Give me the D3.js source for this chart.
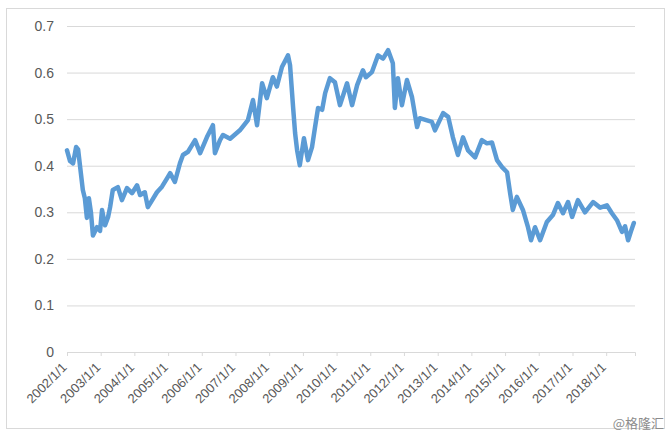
<!DOCTYPE html>
<html>
<head>
<meta charset="utf-8">
<script src="https://cdn.jsdelivr.net/npm/d3@7"></script>
<style>
	body { margin: 0; background: #fff; }
	svg { display: block; }
</style>
</head>
<body>
<div id="chart"></div>
<script>
const years = [
	2002.00, 2002.09, 2002.18, 2002.27, 2002.33, 2002.39, 2002.47, 2002.53, 2002.59, 2002.65,
	2002.71, 2002.77, 2002.89, 2002.98, 2003.04, 2003.13, 2003.22, 2003.28, 2003.36, 2003.51,
	2003.63, 2003.78, 2003.93, 2004.08, 2004.17, 2004.31, 2004.40, 2004.52, 2004.67, 2004.82,
	2004.97, 2005.06, 2005.20, 2005.35, 2005.44, 2005.59, 2005.80, 2005.95, 2006.15, 2006.33,
	2006.39, 2006.54, 2006.63, 2006.84, 2007.13, 2007.37, 2007.52, 2007.64, 2007.79, 2007.93,
	2008.11, 2008.23, 2008.38, 2008.56, 2008.62, 2008.71, 2008.77, 2008.83, 2008.91, 2009.03,
	2009.15, 2009.27, 2009.36, 2009.45, 2009.57, 2009.66, 2009.80, 2009.95, 2010.10, 2010.31,
	2010.46, 2010.61, 2010.78, 2010.87, 2011.05, 2011.23, 2011.38, 2011.53, 2011.67, 2011.73,
	2011.82, 2011.94, 2012.09, 2012.24, 2012.39, 2012.47, 2012.83, 2012.92, 2013.16, 2013.31,
	2013.45, 2013.60, 2013.75, 2013.90, 2014.11, 2014.31, 2014.46, 2014.61, 2014.76, 2014.91,
	2015.06, 2015.15, 2015.23, 2015.35, 2015.53, 2015.68, 2015.77, 2015.89, 2016.04, 2016.24,
	2016.42, 2016.57, 2016.72, 2016.87, 2016.99, 2017.16, 2017.37, 2017.61, 2017.82, 2018.02,
	2018.17, 2018.32, 2018.47, 2018.56, 2018.65, 2018.74, 2018.82
];
const values = [
	0.433, 0.410, 0.405, 0.440, 0.435, 0.397, 0.348, 0.330, 0.288, 0.330,
	0.300, 0.250, 0.268, 0.260, 0.305, 0.272, 0.290, 0.311, 0.348, 0.354,
	0.326, 0.352, 0.341, 0.358, 0.337, 0.343, 0.311, 0.325, 0.343, 0.355,
	0.373, 0.384, 0.365, 0.405, 0.423, 0.430, 0.455, 0.427, 0.461, 0.487,
	0.427, 0.455, 0.466, 0.458, 0.476, 0.498, 0.541, 0.487, 0.577, 0.545,
	0.590, 0.570, 0.612, 0.637, 0.616, 0.526, 0.470, 0.433, 0.401, 0.459,
	0.412, 0.440, 0.483, 0.524, 0.520, 0.556, 0.588, 0.579, 0.530, 0.577,
	0.530, 0.573, 0.605, 0.590, 0.601, 0.637, 0.630, 0.648, 0.620, 0.524,
	0.588, 0.530, 0.584, 0.547, 0.483, 0.502, 0.494, 0.476, 0.513, 0.505,
	0.461, 0.423, 0.461, 0.433, 0.418, 0.455, 0.448, 0.450, 0.412, 0.397,
	0.386, 0.341, 0.305, 0.333, 0.305, 0.268, 0.240, 0.268, 0.240, 0.279,
	0.294, 0.320, 0.298, 0.322, 0.290, 0.326, 0.300, 0.322, 0.310, 0.315,
	0.298, 0.283, 0.258, 0.270, 0.240, 0.260, 0.277
];
const yTicks = [0, 0.1, 0.2, 0.3, 0.4, 0.5, 0.6, 0.7];
const tickYears = d3.range(2002, 2019);
const watermark = "@格隆汇";

const width = 671, height = 437;
const margin = { top: 26, right: 36, bottom: 85, left: 67 };

function toDate(y) {
	const base = new Date(Math.floor(y), 0, 1);
	return new Date(base.getTime() + (y - Math.floor(y)) * 365.25 * 864e5);
}

const data = years.map((y, i) => ({ date: toDate(y), value: values[i] }));

const svg = d3.select("#chart").append("svg")
	.attr("width", width)
	.attr("height", height);

svg.append("rect")
	.attr("x", 6.5).attr("y", 8.5)
	.attr("width", 658).attr("height", 420)
	.attr("fill", "#fff")
	.attr("stroke", "#d9d9d9");

const x = d3.scaleTime()
	.domain([new Date(2002, 0, 1), toDate(2018.855)])
	.range([margin.left, width - margin.right]);

const y = d3.scaleLinear()
	.domain([0, 0.7])
	.range([height - margin.bottom, margin.top]);

// gridlines + y labels
const yAxis = svg.append("g")
	.attr("transform", `translate(${margin.left},0)`)
	.call(d3.axisLeft(y).tickValues(yTicks)
		.tickSize(-(width - margin.left - margin.right))
		.tickPadding(13)
		.tickFormat(d => d === 0 ? "0" : d3.format(".1f")(d)));
yAxis.select(".domain").remove();
yAxis.selectAll(".tick line").attr("stroke", "#d9d9d9");
yAxis.selectAll(".tick text")
	.attr("fill", "#595959")
	.style("font-family", "'Liberation Sans', Arial, sans-serif")
	.style("font-size", "14px");

// x axis, labels slanted up to the tick
const xAxis = svg.append("g")
	.attr("transform", `translate(0,${height - margin.bottom})`)
	.call(d3.axisBottom(x)
		.tickValues(tickYears.map(t => new Date(t, 0, 1)))
		.tickSize(4)
		.tickFormat(d3.timeFormat("%Y/%-m/%-d")));
xAxis.select(".domain").attr("stroke", "#d9d9d9");
xAxis.selectAll(".tick line").attr("stroke", "#d9d9d9");
xAxis.selectAll(".tick text")
	.attr("fill", "#595959")
	.style("font-family", "'Liberation Sans', Arial, sans-serif")
	.style("font-size", "13px")
	.attr("text-anchor", "end")
	.attr("x", 0)
	.attr("y", 0)
	.attr("dx", 0)
	.attr("dy", "0.35em")
	.attr("transform", "translate(-3,13) rotate(-45)");

const line = d3.line()
	.x(d => x(d.date))
	.y(d => y(d.value));

svg.append("path")
	.datum(data)
	.attr("fill", "none")
	.attr("stroke", "#5b9bd5")
	.attr("stroke-width", 4.5)
	.attr("stroke-linejoin", "round")
	.attr("stroke-linecap", "round")
	.attr("d", line);

svg.append("text")
	.attr("x", 664)
	.attr("y", 428)
	.attr("text-anchor", "end")
	.attr("fill", "#8c8c8c")
	.style("font-family", "'Noto Sans CJK SC', sans-serif")
	.style("font-size", "13px")
	.text(watermark);
</script>
</body>
</html>
